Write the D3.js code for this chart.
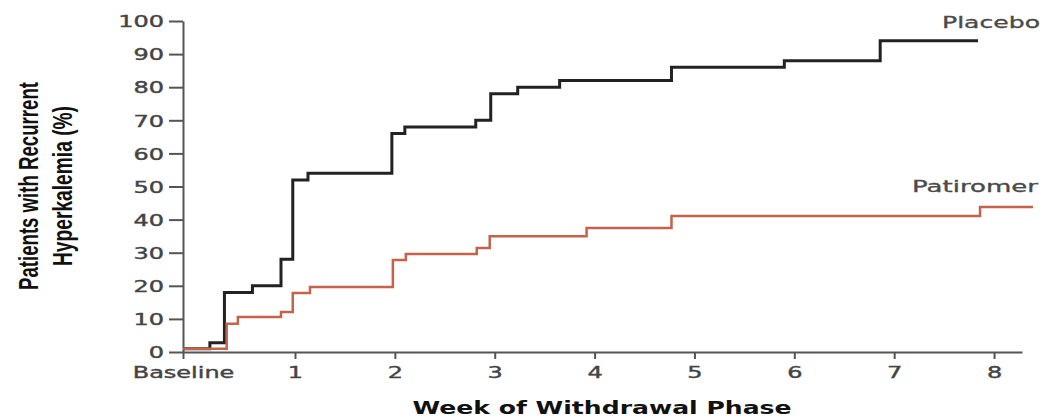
<!DOCTYPE html>
<html>
<head>
<meta charset="utf-8">
<script src="https://cdn.jsdelivr.net/npm/d3@7"></script>
<style>
  body { margin: 0; background: #fff; }
  svg { display: block; }
</style>
</head>
<body>
<div id="chart"></div>
<script>
// Dados (semanas da fase de retirada, % com hipercalemia recorrente)
const placeboWeeks = [0, 0.24, 0.37, 0.62, 0.875, 0.98, 1.13, 1.97, 2.10, 2.81, 2.96, 3.23, 3.65, 4.77, 5.90, 6.86, 7.84];
const placeboPct   = [1, 2.8, 18, 20, 28, 52, 54, 66, 68, 70, 78, 80, 82, 86, 88, 94, 94];

const patiromerWeeks = [0, 0.39, 0.49, 0.875, 0.98, 1.15, 1.98, 2.11, 2.82, 2.95, 3.92, 4.77, 7.86, 8.39];
const patiromerPct   = [1, 8.5, 10.6, 12.1, 17.8, 19.6, 27.8, 29.6, 31.4, 35.0, 37.5, 41.1, 43.8, 43.8];

const xTicks      = [0, 1, 2, 3, 4, 5, 6, 7, 8];
const xTickLabels = ["Baseline", "1", "2", "3", "4", "5", "6", "7", "8"];
const yTicks      = [0, 10, 20, 30, 40, 50, 60, 70, 80, 90, 100];

const seriesNames = ["Placebo", "Patiromer"];

// Layout
const margin = { top: 21, right: 23, bottom: 68, left: 183 };
const width  = 1045 - margin.left - margin.right;
const height = 420 - margin.top - margin.bottom;
const stretch = 1.5; // texto horizontal é esticado na imagem original

const svg = d3.select("#chart")
    .append("svg")
    .attr("width", 1045)
    .attr("height", 420)
    .append("g")
    .attr("transform", `translate(${margin.left},${margin.top})`);

// Escalas ("Baseline" fica um pouco antes da semana 0)
const x = d3.scaleLinear()
    .domain([0, 1, 8.28])
    .range([0, 112, width]);

const y = d3.scaleLinear()
    .domain([0, 100])
    .range([height, 0]);

// Eixo X
const xAxis = svg.append("g")
    .attr("transform", `translate(0,${height})`)
    .call(d3.axisBottom(x)
      .tickValues(xTicks)
      .tickFormat((d, i) => xTickLabels[i])
      .tickSize(7)
      .tickSizeOuter(0)
      .tickPadding(8));

// Eixo Y
const yAxis = svg.append("g")
    .call(d3.axisLeft(y)
      .tickValues(yTicks)
      .tickSize(14)
      .tickSizeOuter(0)
      .tickPadding(5));

[xAxis, yAxis].forEach(g => {
  g.select(".domain").attr("stroke", "#555").attr("stroke-width", 2);
  g.selectAll(".tick line").attr("stroke", "#555").attr("stroke-width", 2);
  g.selectAll(".tick text")
    .attr("fill", "#444")
    .attr("stroke", "#444")
    .attr("stroke-width", 0.4)
    .style("font-family", "'DejaVu Sans', sans-serif")
    .style("font-size", "16px");
});

xAxis.selectAll(".tick text")
    .attr("transform", `scale(${stretch},1)`);

yAxis.selectAll(".tick text")
    .attr("x", -19 / stretch)
    .attr("dy", "0.36em")
    .attr("transform", `scale(${stretch},1)`);

// Linhas em degrau
const line = d3.line()
    .x(d => x(d[0]))
    .y(d => y(d[1]))
    .curve(d3.curveStepAfter);

svg.append("path")
    .datum(d3.zip(placeboWeeks, placeboPct))
    .attr("fill", "none")
    .attr("stroke", "#222")
    .attr("stroke-width", 3)
    .attr("d", line);

svg.append("path")
    .datum(d3.zip(patiromerWeeks, patiromerPct))
    .attr("fill", "none")
    .attr("stroke", "#c4624c")
    .attr("stroke-width", 2.5)
    .attr("d", line);

// Rótulos das séries
[[seriesNames[0], 942, 28, 98], [seriesNames[1], 912, 192, 126]].forEach(([name, px, py, len]) => {
  svg.append("text")
      .attr("x", px - margin.left)
      .attr("y", py - margin.top)
      .attr("textLength", len)
      .attr("lengthAdjust", "spacingAndGlyphs")
      .attr("fill", "#4a4a4a")
      .attr("stroke", "#4a4a4a")
      .attr("stroke-width", 0.3)
      .style("font-family", "'DejaVu Sans', sans-serif")
      .style("font-size", "15px")
      .text(name);
});

// Título do eixo X
svg.append("text")
    .attr("x", 602 - margin.left)
    .attr("y", 414 - margin.top)
    .attr("text-anchor", "middle")
    .attr("textLength", 379)
    .attr("lengthAdjust", "spacingAndGlyphs")
    .attr("fill", "#111")
    .style("font-family", "'DejaVu Sans', sans-serif")
    .style("font-size", "18px")
    .style("font-weight", "bold")
    .text("Week of Withdrawal Phase");

// Título do eixo Y (duas linhas, condensado)
const yTitle = svg.append("g")
    .attr("transform", `translate(${38 - margin.left},${186 - margin.top}) scale(1.9,1) rotate(-90)`);

yTitle.append("text")
    .attr("text-anchor", "middle")
    .attr("textLength", 208)
    .attr("lengthAdjust", "spacingAndGlyphs")
    .attr("fill", "#111")
    .style("font-family", "'Liberation Sans', sans-serif")
    .style("font-size", "15px")
    .style("font-weight", "bold")
    .text("Patients with Recurrent");

yTitle.append("text")
    .attr("y", 18)
    .attr("text-anchor", "middle")
    .attr("textLength", 160)
    .attr("lengthAdjust", "spacingAndGlyphs")
    .attr("fill", "#111")
    .style("font-family", "'Liberation Sans', sans-serif")
    .style("font-size", "15px")
    .style("font-weight", "bold")
    .text("Hyperkalemia (%)");
</script>
</body>
</html>
